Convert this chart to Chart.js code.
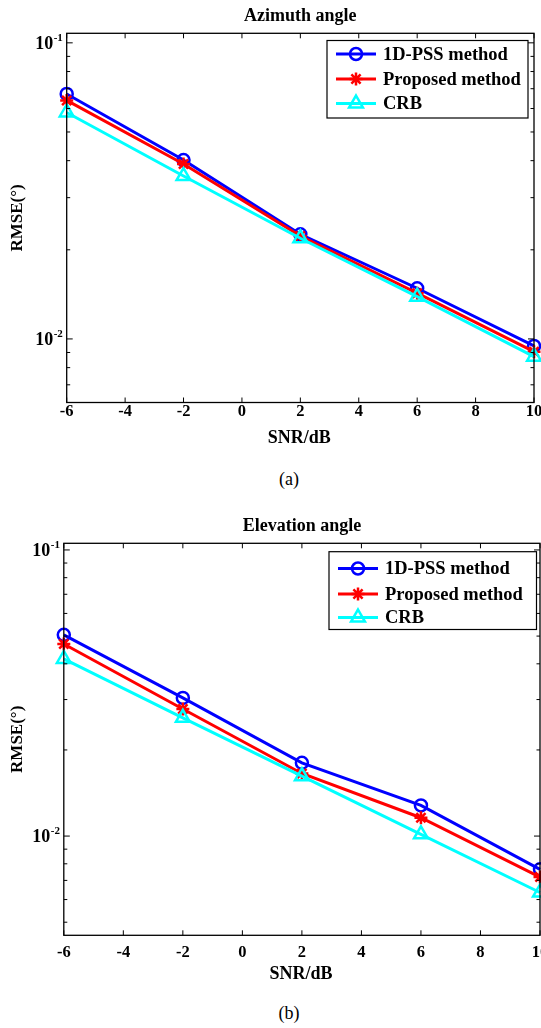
<!DOCTYPE html>
<html><head><meta charset="utf-8">
<script src="https://cdn.jsdelivr.net/npm/chart.js@4/dist/chart.umd.min.js"></script>
<style>
html,body{margin:0;padding:0;background:#fff;width:541px;height:1028px;overflow:hidden;position:relative}
canvas{position:absolute;left:0}
.cap{position:absolute;width:60px;text-align:center;font-family:"Liberation Serif","Times New Roman",serif;font-size:18px;line-height:20px;color:#000}
</style></head><body>
<canvas id="ca" width="541" height="460" style="top:0;width:541px;height:460px"></canvas>
<div class="cap" style="left:259px;top:469px">(a)</div>
<canvas id="cb" width="541" height="500" style="top:500px;width:541px;height:500px"></canvas>
<div class="cap" style="left:259px;top:1003px">(b)</div>
<script>
// ---- data ----
const snr = [-6, -2, 2, 6, 10];
const xTickValues = [-6, -4, -2, 0, 2, 4, 6, 8, 10];
const seriesNames = ['1D-PSS method', 'Proposed method', 'CRB'];
const azimuthPSS = [0.0672, 0.0402, 0.02257, 0.01483, 0.00947];
const azimuthProposed = [0.0639, 0.0390, 0.02227, 0.01427, 0.00906];
const azimuthCRB = [0.0582, 0.0355, 0.02188, 0.01389, 0.00871];
const elevationPSS = [0.0505, 0.0304, 0.01803, 0.0128, 0.00765];
const elevationProposed = [0.0469, 0.0278, 0.01655, 0.01159, 0.00719];
const elevationCRB = [0.0416, 0.0259, 0.01619, 0.01014, 0.00635];
const yMajorTicks = [0.01, 0.1];
const yMajorExp = ['-2', '-1'];

const FONT = '"Liberation Serif","Times New Roman",serif';
const COLORS = ['#0000ff', '#ff0000', '#00ffff'];
const STYLES = ['circle', 'star', 'triangle'];
const RADII = [6, 6.5, 8];

function line(ctx, x1, y1, x2, y2) { ctx.beginPath(); ctx.moveTo(x1, y1); ctx.lineTo(x2, y2); ctx.stroke(); }

function drawMarker(ctx, style, x, y, r, color) {
  ctx.save();
  ctx.strokeStyle = color; ctx.lineWidth = 2.5;
  ctx.beginPath();
  if (style === 'circle') { ctx.arc(x, y, r, 0, Math.PI * 2); }
  else if (style === 'triangle') {
    for (let i = 0; i < 3; i++) {
      const a = i * 2 * Math.PI / 3;
      const px = x + Math.sin(a) * r, py = y - Math.cos(a) * r;
      if (i === 0) ctx.moveTo(px, py); else ctx.lineTo(px, py);
    }
    ctx.closePath();
  } else {
    for (let i = 0; i < 4; i++) {
      const a = i * Math.PI / 4;
      ctx.moveTo(x + Math.cos(a) * r, y + Math.sin(a) * r);
      ctx.lineTo(x - Math.cos(a) * r, y - Math.sin(a) * r);
    }
  }
  ctx.stroke();
  ctx.restore();
}

function makePlugin(cfg) {
  return {
    id: 'matlabLook',
    afterDraw(chart) {
      const ctx = chart.ctx, a = chart.chartArea, xs = chart.scales.x, ys = chart.scales.y;
      ctx.save();
      ctx.strokeStyle = '#000'; ctx.lineWidth = 1.3;
      ctx.strokeRect(a.left, a.top, a.right - a.left, a.bottom - a.top);
      ctx.lineWidth = 1;
      xTickValues.forEach(v => {
        const px = xs.getPixelForValue(v);
        line(ctx, px, a.bottom, px, a.bottom - 5);
        line(ctx, px, a.top, px, a.top + 5);
      });
      for (let e = -3; e <= 0; e++) for (let m = 1; m <= 9; m++) {
        const v = m * Math.pow(10, e);
        if (v < ys.min || v > ys.max) continue;
        const py = ys.getPixelForValue(v);
        const L = m === 1 ? 6 : 3.5;
        line(ctx, a.left, py, a.left + L, py);
        line(ctx, a.right, py, a.right - L, py);
      }
      ctx.fillStyle = '#000';
      ctx.font = 'bold 16.5px ' + FONT; ctx.textAlign = 'center'; ctx.textBaseline = 'alphabetic';
      xTickValues.forEach(v => ctx.fillText(String(v), xs.getPixelForValue(v), cfg.xLabY));
      yMajorTicks.forEach((v, i) => {
        const py = ys.getPixelForValue(v);
        ctx.font = 'bold 18px ' + FONT; ctx.textAlign = 'right';
        ctx.fillText('10', a.left - 13.5, py + 6);
        ctx.font = 'bold 11px ' + FONT; ctx.textAlign = 'left';
        ctx.fillText(yMajorExp[i], a.left - 13, py - 2);
      });
      ctx.font = 'bold 18px ' + FONT; ctx.textAlign = 'center';
      ctx.fillText(cfg.title, (a.left + a.right) / 2, cfg.titleY);
      ctx.fillText('SNR/dB', (a.left + a.right) / 2 - 1, cfg.xTitleY);
      ctx.save();
      ctx.font = 'bold 17px ' + FONT;
      ctx.translate(cfg.yTitleX, (a.top + a.bottom) / 2);
      ctx.rotate(-Math.PI / 2);
      ctx.textBaseline = 'middle';
      ctx.fillText('RMSE(\u00b0)', 0, 0);
      ctx.restore();
      const L = cfg.legend;
      ctx.fillStyle = '#fff';
      ctx.fillRect(L.x1, L.y1, L.x2 - L.x1, L.y2 - L.y1);
      ctx.strokeStyle = '#000'; ctx.lineWidth = 1.2;
      ctx.strokeRect(L.x1, L.y1, L.x2 - L.x1, L.y2 - L.y1);
      ctx.font = 'bold 18.5px ' + FONT; ctx.textAlign = 'left'; ctx.textBaseline = 'middle';
      seriesNames.forEach((name, i) => {
        const y = L.rows[i];
        ctx.strokeStyle = COLORS[i]; ctx.lineWidth = 3;
        line(ctx, L.x1 + 9, y, L.x1 + 49, y);
        drawMarker(ctx, STYLES[i], L.x1 + 29, y, RADII[i], COLORS[i]);
        ctx.fillStyle = '#000';
        ctx.fillText(name, L.x1 + 56, y + 1);
      });
      ctx.restore();
    }
  };
}

function makeChart(id, vals, cfg) {
  const datasets = vals.map((arr, i) => ({
    label: seriesNames[i],
    data: snr.map((x, j) => ({ x: x, y: arr[j] })),
    borderColor: COLORS[i],
    backgroundColor: 'rgba(0,0,0,0)',
    borderWidth: 3,
    pointStyle: STYLES[i],
    pointRadius: RADII[i],
    pointBorderWidth: 2.5,
    pointBorderColor: COLORS[i],
    pointBackgroundColor: 'rgba(0,0,0,0)',
    tension: 0,
    clip: false,
    order: 3 - i
  }));
  return new Chart(document.getElementById(id), {
    type: 'line',
    data: { datasets },
    options: {
      responsive: false,
      animation: false,
      events: [],
      layout: { autoPadding: false, padding: { top: cfg.top, right: cfg.right, left: 0, bottom: 0 } },
      plugins: { legend: { display: false }, title: { display: false }, tooltip: { enabled: false } },
      scales: {
        x: {
          type: 'linear', min: -6, max: 10,
          grid: { display: false }, border: { display: false },
          ticks: { display: false },
          afterFit: s => { s.height = cfg.xHeight; s.paddingLeft = 0; s.paddingRight = 0; }
        },
        y: {
          type: 'logarithmic', min: cfg.ymin, max: cfg.ymax,
          grid: { display: false }, border: { display: false },
          ticks: { display: false },
          afterFit: s => { s.width = cfg.yWidth; s.paddingTop = 0; s.paddingBottom = 0; }
        }
      }
    },
    plugins: [makePlugin(cfg)]
  });
}

makeChart('ca', [azimuthPSS, azimuthProposed, azimuthCRB], {
  title: 'Azimuth angle', top: 33.3, right: 7, xHeight: 460 - 402.5, yWidth: 66.7,
  ymin: 0.0061, ymax: 0.1077,
  titleY: 21, xLabY: 415.5, xTitleY: 443, yTitleX: 18,
  legend: { x1: 327, x2: 528, y1: 40.5, y2: 118, rows: [54, 79, 103.5] }
});
makeChart('cb', [elevationPSS, elevationProposed, elevationCRB], {
  title: 'Elevation angle', top: 43.3, right: 1, xHeight: 500 - 435.3, yWidth: 63.8,
  ymin: 0.0045, ymax: 0.1055,
  titleY: 31, xLabY: 457, xTitleY: 479, yTitleX: 18,
  legend: { x1: 329, x2: 536.5, y1: 51.7, y2: 129.5, rows: [68.5, 94, 117.5] }
});
</script>
</body></html>
